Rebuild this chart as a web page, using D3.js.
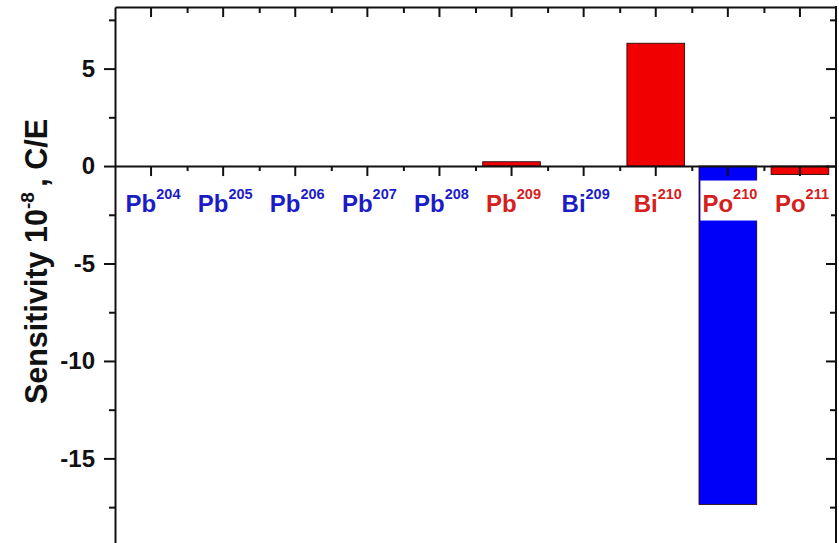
<!DOCTYPE html>
<html>
<head>
<meta charset="utf-8">
<script src="https://cdn.jsdelivr.net/npm/d3@7/dist/d3.min.js"></script>
<style>
  html, body { margin: 0; padding: 0; background: #fff; }
  svg { display: block; font-family: "Liberation Sans", Arial, sans-serif; }
</style>
</head>
<body>
<svg id="chart" width="839" height="543"></svg>
<script>
// Isotopes along the x axis
const elements = ["Pb", "Pb", "Pb", "Pb", "Pb", "Pb", "Bi", "Bi", "Po", "Po"];
const massNumbers = ["204", "205", "206", "207", "208", "209", "209", "210", "210", "211"];
// Sensitivity, units of 10^-8 C/E
const sensitivity = [0, 0, 0, 0, 0, 0.22, 0, 6.3, -17.36, -0.43];
// Bar fill and label colour groups
const barColors = ["red", "red", "red", "red", "red", "red", "red", "red", "blue", "red"];
const labelColors = ["blue", "blue", "blue", "blue", "blue", "red", "blue", "red", "red", "red"];
// Value axis ticks
const majorTicks = [-15, -10, -5, 0, 5];
const minorTicks = [-17.5, -12.5, -7.5, -2.5, 2.5, 7.5];

const fills = { red: "#f00000", blue: "#0000fa" };
const inks = { red: "#d42020", blue: "#1c1cc6" };

const categories = elements.map((e, i) => e + massNumbers[i]);

const plotLeft = 115, plotRight = 836, plotTop = 7, plotBottom = 543;
const svg = d3.select("#chart");

const x = d3.scaleBand()
  .domain(categories)
  .range([plotLeft, plotRight])
  .paddingInner(0.2)
  .paddingOuter(0.1);

// Category boundaries for the minor x ticks
const xEdge = d3.scaleLinear().domain([0, categories.length]).range([plotLeft, plotRight]);

const y = d3.scaleLinear().domain([-19.34, 8.16]).range([plotBottom, plotTop]);

// Bars
svg.append("g")
  .selectAll("rect")
  .data(sensitivity)
  .join("rect")
  .attr("x", (d, i) => x(categories[i]))
  .attr("width", x.bandwidth())
  .attr("y", d => y(Math.max(0, d)))
  .attr("height", d => Math.abs(y(d) - y(0)))
  .attr("fill", (d, i) => fills[barColors[i]])
  .attr("stroke", d => d === 0 ? "none" : "#2a0a0a")
  .attr("stroke-width", 0.9);

function styleAxis(g) {
  g.selectAll("line").attr("stroke", "#111").attr("stroke-width", 2);
  g.selectAll("path").attr("stroke", "#111").attr("stroke-width", 2);
}

// Left value axis (outward ticks), plain hyphen for negatives
svg.append("g")
  .attr("transform", `translate(${plotLeft},0)`)
  .call(d3.axisLeft(y).tickValues(majorTicks).tickSize(11).tickSizeOuter(0).tickPadding(9)
    .tickFormat(d => String(d)))
  .call(styleAxis)
  .call(g => g.selectAll("text")
    .attr("font-size", 24).attr("font-weight", "bold").attr("fill", "#111")
    .attr("font-family", "Liberation Sans, Arial, sans-serif"));
svg.append("g")
  .attr("transform", `translate(${plotLeft},0)`)
  .call(d3.axisLeft(y).tickValues(minorTicks).tickSize(6).tickFormat(""))
  .call(g => g.select(".domain").remove())
  .call(styleAxis);

// Right frame (inward ticks)
svg.append("g")
  .attr("transform", `translate(${plotRight},0)`)
  .call(d3.axisLeft(y).tickValues(majorTicks).tickSize(10).tickSizeOuter(0).tickFormat(""))
  .call(g => g.select(".domain").remove())
  .call(styleAxis);
svg.append("g")
  .attr("transform", `translate(${plotRight},0)`)
  .call(d3.axisLeft(y).tickValues(minorTicks).tickSize(6).tickFormat(""))
  .call(g => g.select(".domain").remove())
  .call(styleAxis);
svg.append("line")
  .attr("x1", plotRight).attr("x2", plotRight).attr("y1", plotTop - 1).attr("y2", plotBottom)
  .attr("stroke", "#111").attr("stroke-width", 2);

// Top frame (inward ticks)
svg.append("g")
  .attr("transform", `translate(0,${plotTop})`)
  .call(d3.axisBottom(x).tickSize(10).tickSizeOuter(0).tickFormat(""))
  .call(styleAxis);
svg.append("g")
  .attr("transform", `translate(0,${plotTop})`)
  .call(d3.axisBottom(xEdge).tickValues(d3.range(1, categories.length)).tickSize(6).tickFormat(""))
  .call(g => g.select(".domain").remove())
  .call(styleAxis);

// Zero line with category ticks
svg.append("g")
  .attr("transform", `translate(0,${y(0)})`)
  .call(d3.axisBottom(x).tickSize(10).tickSizeOuter(0).tickFormat(""))
  .call(styleAxis);
svg.append("g")
  .attr("transform", `translate(0,${y(0)})`)
  .call(d3.axisBottom(xEdge).tickValues(d3.range(1, categories.length)).tickSize(5).tickFormat(""))
  .call(g => g.select(".domain").remove())
  .call(styleAxis);

// Isotope labels on white boxes
const labels = svg.append("g");
categories.forEach((c, i) => {
  const g = labels.append("g");
  const t = g.append("text")
    .attr("x", x(c) + x.bandwidth() / 2 + 2)
    .attr("y", y(0) + 45.5)
    .attr("text-anchor", "middle")
    .attr("font-weight", "bold")
    .attr("fill", inks[labelColors[i]]);
  t.append("tspan").attr("font-size", 24).text(elements[i]);
  t.append("tspan").attr("font-size", 14.5).attr("dy", -13).text(massNumbers[i]);
  const b = t.node().getBBox();
  g.insert("rect", "text")
    .attr("x", b.x - 2).attr("y", b.y - 5)
    .attr("width", b.width + 4).attr("height", b.height + 9)
    .attr("fill", "#fff");
});

// Value axis title
const title = svg.append("text")
  .attr("transform", `translate(47,${(118 + 405) / 2}) rotate(-90)`)
  .attr("text-anchor", "middle")
  .attr("font-weight", "bold")
  .attr("font-size", 30.5)
  .attr("fill", "#111");
title.append("tspan").text("Sensitivity 10");
title.append("tspan").attr("font-size", 19).attr("dy", -13).text("-8");
title.append("tspan").attr("dy", 13).attr("dx", -3).text(" , C/E");
</script>
</body>
</html>
